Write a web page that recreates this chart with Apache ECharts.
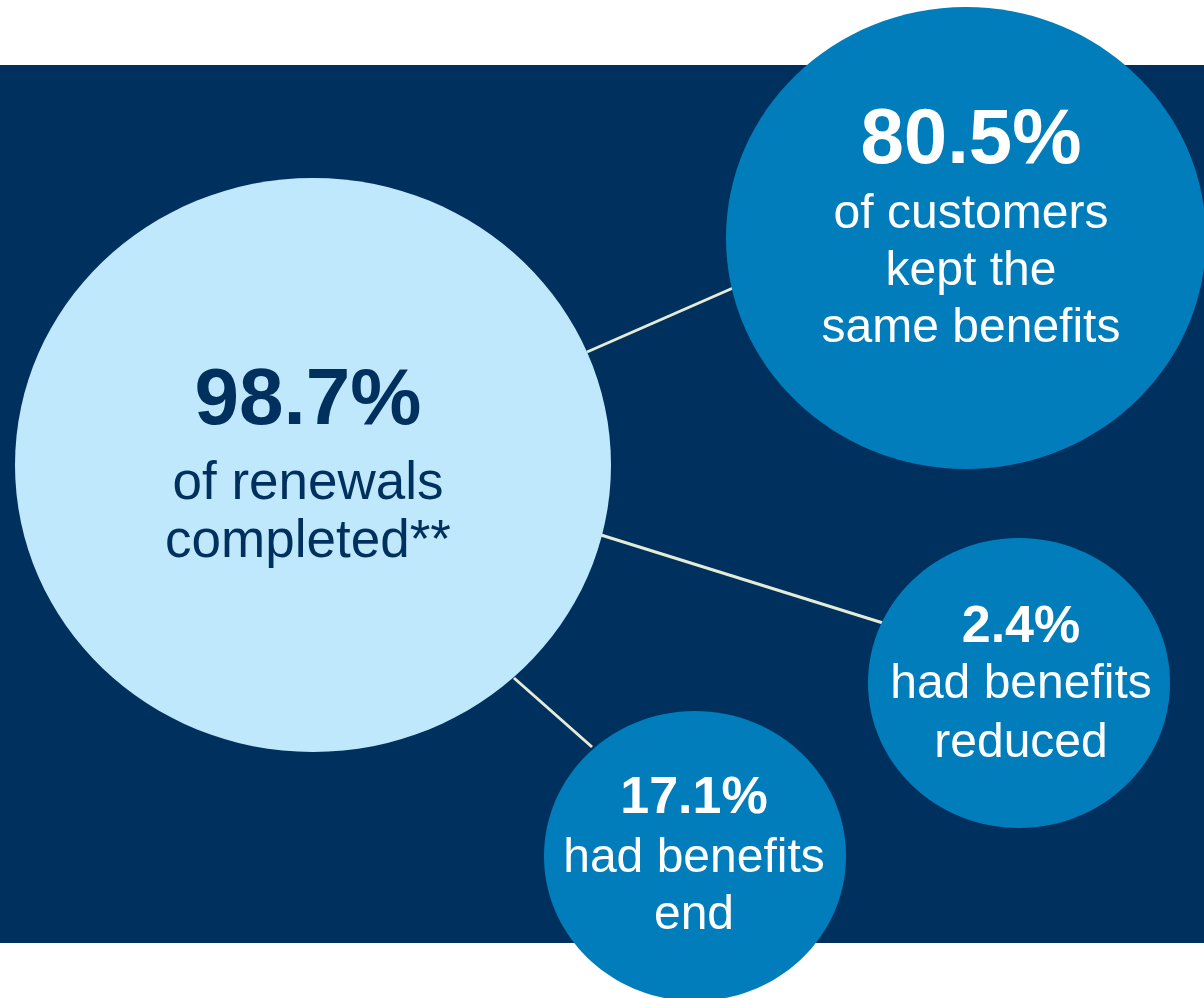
<!DOCTYPE html>
<html>
<head>
<meta charset="utf-8">
<script src="https://cdn.jsdelivr.net/npm/echarts@6/dist/echarts.min.js"></script>
<style>
  html, body { margin: 0; padding: 0; background: #ffffff; }
  #chart { width: 1204px; height: 998px; }
</style>
</head>
<body>
<div id="chart"></div>
<script>
// ---- data ----
var values = [98.7, 80.5, 2.4, 17.1];
var captions = [
  ["of renewals", "completed**"],
  ["of customers", "kept the", "same benefits"],
  ["had benefits", "reduced"],
  ["had benefits", "end"]
];
// connections: from bubble 0 to bubbles 1, 2, 3
var links = [[0, 1], [0, 2], [0, 3]];

// ---- layout (positions / sizes in axis units = pixels) ----
var bubbleLayout = [
  { cx: 313, cy: 465, rx: 298, ry: 287, tx: 308, base1: 424, base2: 499, gap: 58, f1: 80, f2: 53 },
  { cx: 966, cy: 238, rx: 240, ry: 231, tx: 971, base1: 163, base2: 228, gap: 57, f1: 78, f2: 48 },
  { cx: 1019, cy: 683, rx: 151, ry: 145, tx: 1021, base1: 642, base2: 698, gap: 59, f1: 52, f2: 48 },
  { cx: 695, cy: 856, rx: 151, ry: 145, tx: 694, base1: 813, base2: 872, gap: 57, f1: 52, f2: 48 }
];
var linkLayout = [
  [[587, 352], [733, 288]],
  [[601, 535], [883, 623]],
  [[514, 678], [592, 747]]
];
var panelLayout = [0, 65, 1204, 943];

// ---- styles ----
var NAVY = '#00305E';
var LIGHT = '#C0E8FD';
var MID = '#027DBB';
var LINE = '#E4EBD6';
var FONT = '"Liberation Sans", Arial, sans-serif';
var fills = [LIGHT, MID, MID, MID];
var textColors = [NAVY, '#FFFFFF', '#FFFFFF', '#FFFFFF'];

var chart = echarts.init(document.getElementById('chart'), null, { renderer: 'canvas' });

var bubbleData = values.map(function (v, i) { return { value: [i, v], name: captions[i].join(' ') }; });

function midY(base, fs) { return base - 0.28 * fs; }

var option = {
  animation: false,
  backgroundColor: '#FFFFFF',
  grid: { left: 0, right: 0, top: 0, bottom: 0, containLabel: false },
  xAxis: { type: 'value', min: 0, max: 1204, show: false },
  yAxis: { type: 'value', min: 0, max: 998, inverse: true, show: false },
  series: [
    {
      type: 'custom',
      name: 'panel',
      z: 0,
      silent: true,
      data: [[0]],
      renderItem: function (params, api) {
        var p0 = api.coord([panelLayout[0], panelLayout[1]]);
        var p1 = api.coord([panelLayout[2], panelLayout[3]]);
        return {
          type: 'rect',
          shape: { x: p0[0], y: p0[1], width: p1[0] - p0[0], height: p1[1] - p0[1] },
          style: { fill: NAVY }
        };
      }
    },
    {
      type: 'custom',
      name: 'links',
      z: 1,
      silent: true,
      data: links.map(function (l, i) { return [i, l[0], l[1]]; }),
      renderItem: function (params, api) {
        var seg = linkLayout[params.dataIndex];
        var a = api.coord(seg[0]);
        var b = api.coord(seg[1]);
        return {
          type: 'line',
          shape: { x1: a[0], y1: a[1], x2: b[0], y2: b[1] },
          style: { stroke: LINE, lineWidth: 3 }
        };
      }
    },
    {
      type: 'custom',
      name: 'bubbles',
      z: 2,
      silent: true,
      data: bubbleData,
      renderItem: function (params, api) {
        var i = params.dataIndex;
        var L = bubbleLayout[i];
        var c = api.coord([L.cx, L.cy]);
        var e = api.coord([L.cx + L.rx, L.cy + L.ry]);
        var children = [{
          type: 'ellipse',
          shape: { cx: c[0], cy: c[1], rx: e[0] - c[0], ry: e[1] - c[1] },
          style: { fill: fills[i] }
        }];
        var t = api.coord([L.tx, L.base1]);
        children.push({
          type: 'text',
          style: {
            text: api.value(1).toFixed(1) + '%',
            x: t[0], y: midY(t[1], L.f1),
            align: 'center', verticalAlign: 'middle',
            font: 'bold ' + L.f1 + 'px ' + FONT,
            fill: textColors[i]
          }
        });
        captions[i].forEach(function (line, k) {
          var p = api.coord([L.tx, L.base2 + k * L.gap]);
          children.push({
            type: 'text',
            style: {
              text: line,
              x: p[0], y: midY(p[1], L.f2),
              align: 'center', verticalAlign: 'middle',
              font: L.f2 + 'px ' + FONT,
              fill: textColors[i]
            }
          });
        });
        return { type: 'group', children: children };
      }
    }
  ]
};
chart.setOption(option);
</script>
</body>
</html>
